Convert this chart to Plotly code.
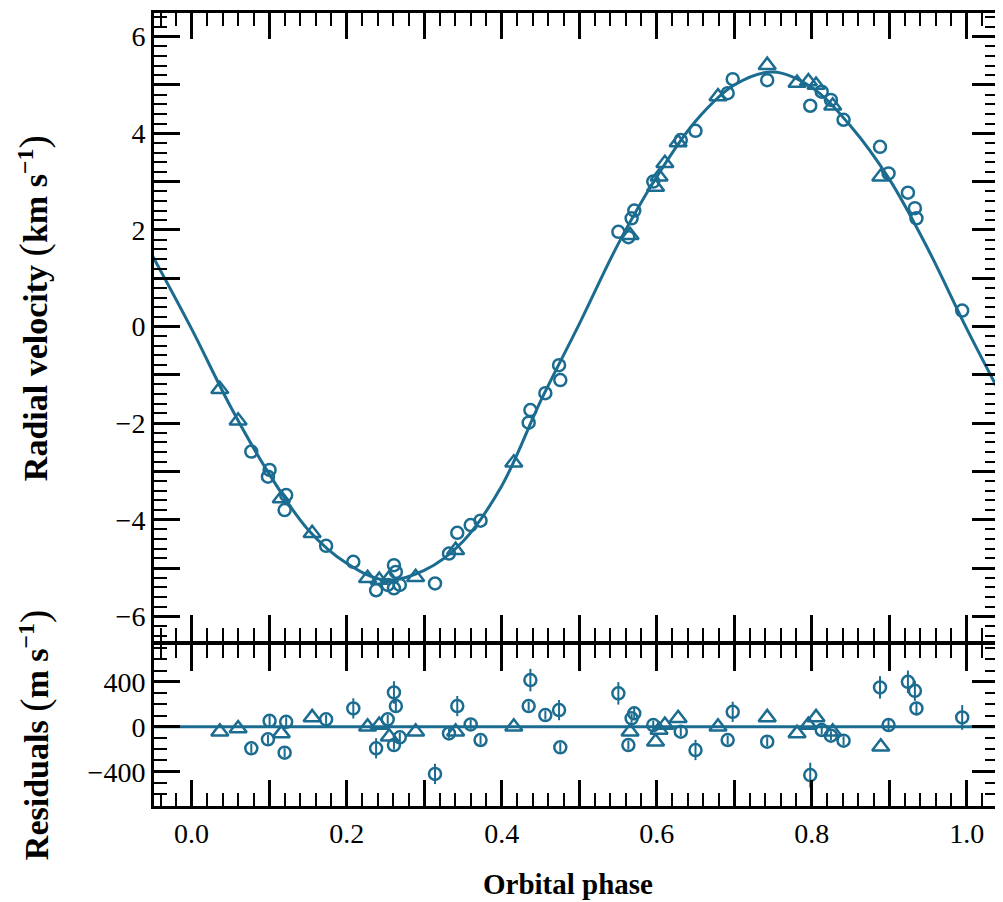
import plotly.graph_objects as go

# ---------------- data ----------------
circ_phase = [0.077, 0.0985, 0.1006, 0.120, 0.122, 0.1735, 0.2086, 0.238, 0.253, 0.261,
              0.2635, 0.261, 0.2686, 0.314, 0.332, 0.3427, 0.360, 0.3727, 0.4348, 0.437,
              0.4563, 0.474, 0.4756, 0.5505, 0.5634, 0.5676, 0.571, 0.5955, 0.631, 0.650,
              0.6915, 0.698, 0.7425, 0.798, 0.8128, 0.8247, 0.841, 0.888, 0.899, 0.924,
              0.933, 0.935, 0.994]
circ_rv = [-2.59, -3.11, -2.97, -3.80, -3.49, -4.54, -4.87, -5.46, -5.35, -4.94,
           -5.08, -5.42, -5.35, -5.32, -4.70, -4.27, -4.11, -4.02, -1.99, -1.73,
           -1.38, -0.80, -1.11, 1.96, 1.85, 2.24, 2.40, 3.00, 3.86, 4.05,
           4.83, 5.12, 5.10, 4.57, 4.86, 4.69, 4.28, 3.72, 3.17, 2.77,
           2.45, 2.24, 0.33]
circ_res = [-192, -112, 53, -231, 44, 66, 163, -192, 66, 305,
            184, -163, -94, -420, -59, 184, 21, -118, 184, 415,
            104, 148, -183, 297, -163, 75, 119, 15, -44, -207,
            -118, 133, -133, -430, -29, -80, -124, 350, 15, 400,
            320, 163, 83]
circ_err = [40, 40, 60, 40, 40, 40, 90, 90, 40, 100,
            60, 40, 40, 90, 40, 90, 40, 40, 40, 100,
            40, 90, 40, 100, 40, 40, 60, 40, 40, 90,
            40, 90, 40, 110, 40, 40, 40, 100, 60, 100,
            90, 60, 110]

tri_phase = [0.0364, 0.060, 0.1157, 0.1555, 0.227, 0.242, 0.255, 0.289, 0.3406, 0.4156,
             0.5656, 0.5985, 0.603, 0.6105, 0.6276, 0.679, 0.7425, 0.781, 0.7956, 0.8055,
             0.827, 0.889]
tri_rv = [-1.30, -1.95, -3.56, -4.28, -5.21, -5.25, -5.21, -5.19, -4.63, -2.82,
          1.89, 2.89, 3.10, 3.38, 3.81, 4.76, 5.41, 5.04, 5.07, 5.00,
          4.57, 3.10]
tri_res = [-44, -15, -59, 83, 0, 15, -89, -44, -44, 0,
           -44, -133, -29, 15, 75, 0, 83, -59, 15, 83,
           -44, -178]

fit_phase = [-0.05, 0.0, 0.05, 0.10, 0.15, 0.20, 0.25, 0.30, 0.35, 0.40, 0.45, 0.50,
             0.55, 0.60, 0.65, 0.70, 0.75, 0.80, 0.85, 0.90, 0.95, 1.00, 1.05]
fit_rv = [1.45, -0.05, -1.65, -3.05, -4.2, -4.9, -5.25, -5.05, -4.45, -3.3, -1.55, 0.05,
          1.7, 3.1, 4.25, 5.0, 5.27, 4.95, 4.15, 3.05, 1.6, -0.05, -1.6]

# ---------------- styling ----------------
COL = "#1b6c90"
FONT = "Liberation Serif"

fig = go.Figure()

fig.add_trace(go.Scatter(x=fit_phase, y=fit_rv, mode="lines",
                         line=dict(color=COL, width=3, shape="spline", smoothing=1.0),
                         xaxis="x", yaxis="y", showlegend=False))
fig.add_trace(go.Scatter(x=circ_phase, y=circ_rv, mode="markers",
                         marker=dict(symbol="circle-open", size=12, color=COL, line=dict(width=2.5, color=COL)),
                         xaxis="x", yaxis="y", showlegend=False))
fig.add_trace(go.Scatter(x=tri_phase, y=tri_rv, mode="markers",
                         marker=dict(symbol="triangle-up-open", size=15, color=COL, line=dict(width=2.5, color=COL)),
                         xaxis="x", yaxis="y", showlegend=False))

fig.add_trace(go.Scatter(x=[-0.05, 1.05], y=[0, 0], mode="lines",
                         line=dict(color=COL, width=3),
                         xaxis="x2", yaxis="y2", showlegend=False))
fig.add_trace(go.Scatter(x=circ_phase, y=circ_res, mode="markers",
                         marker=dict(symbol="circle-open", size=12, color=COL, line=dict(width=2.5, color=COL)),
                         error_y=dict(type="data", array=circ_err, color=COL, thickness=2, width=0),
                         xaxis="x2", yaxis="y2", showlegend=False))
fig.add_trace(go.Scatter(x=tri_phase, y=tri_res, mode="markers",
                         marker=dict(symbol="triangle-up-open", size=15, color=COL, line=dict(width=2.5, color=COL)),
                         xaxis="x2", yaxis="y2", showlegend=False))

common = dict(showline=True, linecolor="black", linewidth=3, mirror="ticks",
              ticks="inside", ticklen=26, tickwidth=2.5, tickcolor="black",
              showgrid=False, zeroline=False,
              tickfont=dict(family=FONT, size=28, color="black"))

XR = [-0.0485, 1.0402]
xminor = dict(ticks="inside", ticklen=13, tickwidth=2, tickcolor="black",
              tickmode="linear", tick0=0, dtick=0.02, showgrid=False)

PAREN_L = "<span style='font-size:40px;font-weight:normal'>(</span>"
PAREN_R = "<span style='font-size:40px;font-weight:normal'>)</span>"

fig.update_layout(
    width=995, height=894,
    margin=dict(l=146, r=2, t=5, b=96),
    paper_bgcolor="white", plot_bgcolor="white",
    xaxis=dict(**common, range=XR, domain=[0, 1], anchor="y",
               tickmode="linear", tick0=0, dtick=0.1,
               showticklabels=False, minor=xminor),
    yaxis=dict(**common, range=[-6.51, 6.49], domain=[0.2081, 1.0], anchor="x",
               tickmode="linear", tick0=0, dtick=1, ticklabelstep=2,
               minor=dict(ticks="inside", ticklen=13, tickwidth=2, tickcolor="black",
                          tickmode="linear", tick0=0, dtick=0.2, showgrid=False)),
    xaxis2=dict(**common, range=XR, domain=[0, 1], anchor="y2",
                tickmode="linear", tick0=0, dtick=0.1, ticklabelstep=2, tickformat=".1f",
                minor=xminor, ticklabelstandoff=0),
    yaxis2=dict(**common, range=[-705, 727], domain=[0.0, 0.203], anchor="x2",
                tickmode="linear", tick0=0, dtick=400,
                minor=dict(ticks="inside", ticklen=13, tickwidth=2, tickcolor="black",
                           tickmode="linear", tick0=0, dtick=100, showgrid=False)),
    annotations=[
        dict(text="<b>Radial velocity " + PAREN_L + "km s<sup>−1</sup>" + PAREN_R + "</b>",
             xref="paper", yref="paper", x=-0.142, y=0.628, textangle=-90,
             showarrow=False, font=dict(family=FONT, size=34, color="black"),
             xanchor="center", yanchor="middle"),
        dict(text="<b>Residuals " + PAREN_L + "m s<sup>−1</sup>" + PAREN_R + "</b>",
             xref="paper", yref="paper", x=-0.142, y=0.0895, textangle=-90,
             showarrow=False, font=dict(family=FONT, size=34, color="black"),
             xanchor="center", yanchor="middle"),
        dict(text="<b>Orbital phase</b>", xref="paper", yref="paper",
             x=0.491, y=-0.098, showarrow=False,
             font=dict(family=FONT, size=29, color="black"),
             xanchor="center", yanchor="middle"),
    ],
)

fig.write_html("out.html")
